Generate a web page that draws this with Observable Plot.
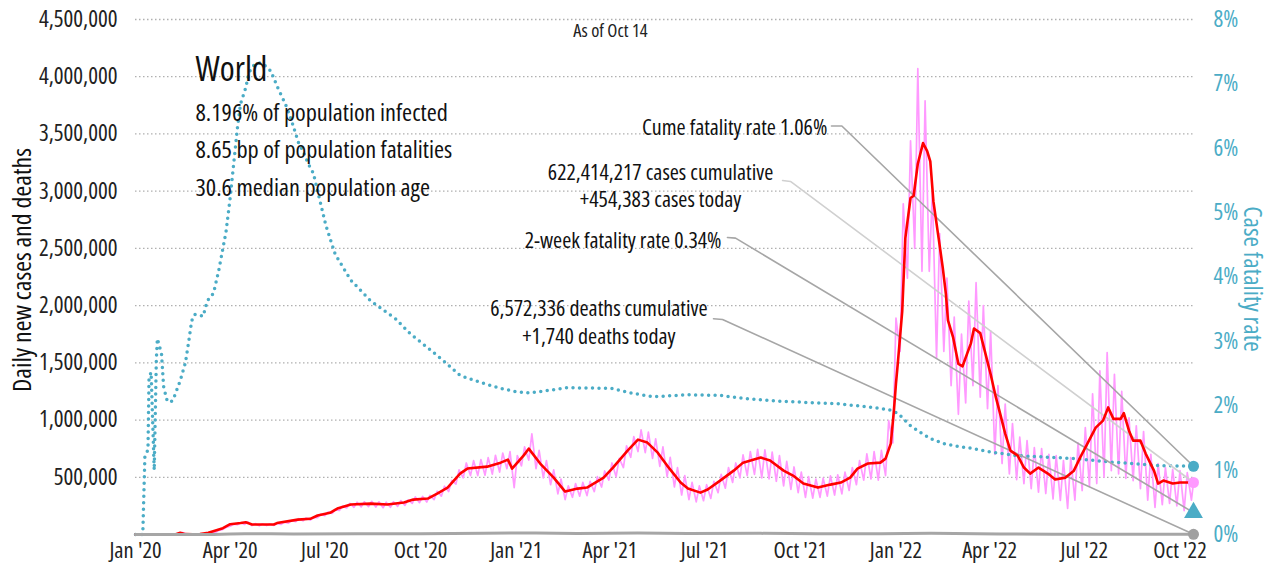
<!DOCTYPE html>
<html>
<head>
<meta charset="utf-8">
<script src="https://cdn.jsdelivr.net/npm/d3@7"></script>
<script src="https://cdn.jsdelivr.net/npm/@observablehq/plot@0.6"></script>
<style>
  html, body { margin: 0; padding: 0; background: #fff; }
  #chart svg { display: block; }
  #chart svg, #chart svg text { font-family: 'Open Sans', 'Roboto Condensed', sans-serif; font-stretch: 75%; }
</style>
</head>
<body>
<div id="chart"></div>
<script>
// ---------------- DATA ----------------
// Day offsets are days since 1 Jan 2020; values in thousands unless noted.
const startDate = "2020-01-01";
const lastDay = 1017; // Oct 14, 2022

// 7-day average of new cases: [day, thousands]
const casesAvg7 = [
  [0,0],[38,1],[43,15],[48,3],[55,2],[62,3],[70,15],[77,35],[84,55],[91,90],[101,100],[106,107],[112,88],
  [133,87],[136,100],[156,130],[168,137],[175,166],[187,190],[194,227],[207,262],[226,270],[242,262],
  [258,279],[267,305],[281,314],[290,358],[300,410],[312,532],[319,576],[338,593],[351,628],[358,654],
  [362,576],[373,689],[378,750],[389,620],[402,497],[413,375],[425,401],[434,410],[450,497],[459,585],
  [473,733],[483,829],[492,803],[502,715],[511,602],[524,454],[531,401],[543,366],[550,393],[562,471],
  [575,558],[584,628],[601,672],[610,646],[623,558],[632,515],[642,445],[656,410],[668,436],[678,454],
  [687,497],[694,576],[704,620],[716,628],[721,663],[726,794],[729,1080],[731,1320],[733,1520],[737,1950],
  [740,2590],[745,2940],[748,2960],[752,3240],[757,3420],[761,3350],[764,3260],[767,2910],[772,2590],
  [776,2330],[779,2100],[781,1870],[786,1720],[791,1490],[795,1470],[803,1670],[806,1800],[812,1760],
  [817,1580],[822,1400],[827,1200],[831,1060],[836,881],[841,733],[848,689],[854,585],[860,532],[868,585],
  [877,532],[884,480],[894,497],[902,558],[908,672],[915,794],[923,934],[930,995],[935,1110],[940,1010],
  [947,1010],[950,1060],[955,907],[959,820],[966,820],[971,707],[979,558],[983,445],[988,471],[997,445],
  [1004,454],[1017,454]
];

// Daily new cases, weekly troughs and peaks (thousands), week i starts on day 7*i
const dailyLowK = [
  0,0,0,0,1,2,3,3,1,2,8,20,45,72,85,88,78,76,78,80,88,100,112,120,126,148,165,185,210,232,
  238,242,244,240,234,238,245,254,272,278,284,305,335,375,440,495,515,515,518,528,545,575,410,600,650,
  575,495,435,355,305,325,335,340,375,415,475,505,585,675,725,715,665,595,505,415,345,305,285,295,315,
  365,405,455,495,515,525,495,485,465,425,395,365,325,318,325,335,345,355,385,435,475,485,475,515,800,
  1600,2240,2500,2300,2300,1540,1600,1300,1050,1150,1300,1200,1100,700,620,530,480,445,400,370,358,310,
  297,227,300,384,420,445,500,558,530,490,471,400,300,236,260,271,250,209,300
];
const dailyHighK = [
  0,0,0,1,3,4,18,6,3,6,18,35,62,90,102,110,95,92,92,96,108,122,138,145,150,178,196,215,248,272,
  282,286,290,286,282,286,296,302,328,332,342,378,422,472,565,625,645,655,672,692,712,725,690,765,880,
  735,645,565,485,425,445,455,465,505,555,625,665,775,855,915,895,835,765,675,585,515,455,425,435,465,
  525,585,625,695,725,745,740,720,690,640,590,545,505,485,492,512,522,545,585,645,705,725,735,995,1890,
  2890,3440,4070,3790,3000,2630,2240,1900,1750,2040,2200,2000,1780,1300,1140,970,850,820,760,750,700,689,
  646,672,800,934,1230,1430,1590,1400,1250,1020,950,900,700,620,585,570,558,540,532
];
const casesToday = 454383;

// Daily deaths: [day, thousands]
const deathsDaily = [
  [0,0],[60,0.2],[75,1],[91,5],[105,7.5],[130,5.5],[152,4.5],[213,6],[274,5.5],[335,10.5],[385,14],
  [425,9],[483,13.5],[531,9],[601,10],[656,7],[716,7],[765,11],[831,5],[882,2],[943,2.3],[1017,1.74]
];

// Cumulative case fatality rate: [day, percent]
const caseFatalityRate = [
  [0,0],[7,0],[9,1.2],[12,1.32],[13,2.44],[15,2.52],[18,1.0],[20,2.7],[21,3.04],[25,2.81],[27,2.3],
  [30,2.1],[34,2.05],[37,2.13],[43,2.39],[48,2.67],[51,2.98],[54,3.32],[57,3.42],[65,3.39],[69,3.63],
  [75,3.75],[80,4.1],[87,4.7],[91,5.23],[94,5.7],[98,6.32],[101,6.69],[106,6.94],[109,7.17],[113,7.28],
  [120,7.33],[125,7.28],[130,7.2],[137,6.93],[144,6.69],[149,6.48],[157,6.07],[161,5.96],[166,5.76],
  [171,5.61],[175,5.34],[183,4.8],[192,4.35],[207,3.95],[226,3.63],[250,3.35],[264,3.12],[284,2.86],
  [298,2.67],[312,2.47],[332,2.36],[351,2.27],[365,2.22],[377,2.2],[389,2.22],[415,2.28],[457,2.27],
  [479,2.19],[498,2.14],[531,2.17],[562,2.16],[588,2.11],[620,2.07],[675,2.03],[700,1.99],[724,1.94],
  [733,1.88],[738,1.8],[745,1.69],[755,1.58],[764,1.49],[777,1.41],[790,1.37],[803,1.34],[819,1.29],
  [844,1.23],[877,1.2],[902,1.18],[934,1.13],[959,1.1],[985,1.07],[1017,1.06]
];
const cumeFatalityPct = 1.06;
const twoWeekFatalityPct = 0.34;
const deathsToday = 1740;

// Tick values
const caseTicks = [500000,1000000,1500000,2000000,2500000,3000000,3500000,4000000,4500000];
const pctTicks = [0,1,2,3,4,5,6,7,8];
const monthNames = ["Jan","Apr","Jul","Oct"];
const quarterTicks = ["2020-01-01","2020-04-01","2020-07-01","2020-10-01","2021-01-01","2021-04-01",
  "2021-07-01","2021-10-01","2022-01-01","2022-04-01","2022-07-01","2022-10-01"];

// Text
const titleLines = ["World","8.196% of population infected","8.65 bp of population fatalities","30.6 median population age"];
const asOfText = "As of Oct 14";
const yLabelLeft = "Daily new cases and deaths";
const yLabelRight = "Case fatality rate";
const annotationTexts = [
  "Cume fatality rate 1.06%",
  "622,414,217 cases cumulative\n+454,383 cases today",
  "2-week fatality rate 0.34%",
  "6,572,336 deaths cumulative\n+1,740 deaths today"
];

// ---------------- BUILD ----------------
const T0 = Date.parse(startDate + "T00:00:00Z");
const D = n => new Date(T0 + n * 864e5);
const PCT = 4500000 / 8; // right axis: 8% maps to 4,500,000 on the left axis
const TEAL = "#4bacc6", PINK = "#ff99ff", RED = "#ff0000", GRAY = "#a6a6a6";

const red = casesAvg7.map(([d, v]) => ({x: D(d), y: v * 1000}));
const pink = [];
dailyLowK.forEach((lo, i) => {
  if (7 * i < lastDay) pink.push({x: D(7 * i), y: lo * 1000});
  if (7 * i + 3 < lastDay) pink.push({x: D(7 * i + 3), y: dailyHighK[i] * 1000});
});
pink.push({x: D(lastDay), y: casesToday});
const deaths = deathsDaily.map(([d, v]) => ({x: D(d), y: v * 1000}));
const cfr = caseFatalityRate.map(([d, p]) => ({x: D(d), y: p * PCT}));

// annotation anchors in data space (day, value)
const annosEnd = [
  {d: 665, v: 3548000, text: annotationTexts[0]},
  {d: 563.3, v: 2569000, text: annotationTexts[2]}
];
const annosMid = [
  {d: 504.7, v: 3058000, text: annotationTexts[1]},
  {d: 445.4, v: 1863000, text: annotationTexts[3]}
];
const leaders = [
  {c: GRAY, pts: [[669, 3569000], [679, 3569000], [lastDay, cumeFatalityPct * PCT]]},
  {c: "#d0d0d0", pts: [[622, 3093000], [629.6, 3085000], [lastDay, casesToday]]},
  {c: GRAY, pts: [[569, 2595000], [576.8, 2590000], [lastDay, twoWeekFatalityPct * PCT]]},
  {c: GRAY, pts: [[555.6, 1885000], [564.3, 1879000], [lastDay, deathsToday]]}
];
const leaderMarks = leaders.map(L => Plot.line(L.pts.map(([d, v]) => ({x: D(d), y: v})),
  {x: "x", y: "y", stroke: L.c, strokeWidth: 1.6}));

const titleY = [4054000, 3679000, 3355000, 3023000];
const titleData = titleLines.map((t, i) => ({x: D(57.7), y: titleY[i], t}));

const chart = Plot.plot({
  width: 1270,
  height: 573,
  marginTop: 19,
  marginBottom: 39,
  marginLeft: 135,
  marginRight: 77,
  style: {fontFamily: "'Open Sans', 'Roboto Condensed', sans-serif", fontSize: "22px", color: "#222", background: "#fff", overflow: "visible"},
  x: {type: "utc", domain: [D(0), D(lastDay)]},
  y: {domain: [0, 4500000]},
  marks: [
    Plot.gridY(caseTicks, {stroke: "#b0b0b0", strokeOpacity: 1, strokeWidth: 1.3, strokeDasharray: "1.5,2.5"}),
    Plot.line(pink, {x: "x", y: "y", stroke: PINK, strokeWidth: 1.7}),
    Plot.line(cfr, {x: "x", y: "y", stroke: TEAL, strokeWidth: 3.5, strokeDasharray: "0,6.5", strokeLinecap: "round"}),
    ...leaderMarks,
    Plot.line(red, {x: "x", y: "y", stroke: RED, strokeWidth: 2.6}),
    Plot.line(deaths, {x: "x", y: "y", stroke: GRAY, strokeWidth: 3}),
    Plot.dot([{x: D(lastDay), y: deathsToday}], {x: "x", y: "y", r: 5.5, fill: "#a0a0a0"}),
    Plot.dot([{x: D(lastDay), y: twoWeekFatalityPct * PCT}], {x: "x", y: "y", r: 7, symbol: "triangle", fill: TEAL}),
    Plot.dot([{x: D(lastDay), y: casesToday}], {x: "x", y: "y", r: 5.5, fill: PINK}),
    Plot.dot([{x: D(lastDay), y: cumeFatalityPct * PCT}], {x: "x", y: "y", r: 5.5, fill: TEAL}),
    Plot.text(annosEnd, {x: d => D(d.d), y: "v", text: "text", textAnchor: "end", lineAnchor: "middle",
      fontSize: 22, fill: "#111"}),
    Plot.text(annosMid, {x: d => D(d.d), y: "v", text: "text", textAnchor: "middle", lineAnchor: "middle",
      lineHeight: 1.27, fontSize: 22, fill: "#111"}),
    Plot.text(titleData.slice(0, 1), {x: "x", y: "y", text: "t", textAnchor: "start", lineAnchor: "middle", fontSize: 34, fill: "#111"}),
    Plot.text(titleData.slice(1), {x: "x", y: "y", text: "t", textAnchor: "start", lineAnchor: "middle", fontSize: 24.3, fill: "#111"}),
    Plot.text([asOfText], {x: D(456.6), y: 4395000, text: d => d, textAnchor: "middle", lineAnchor: "middle", fontSize: 18.5, fill: "#222"}),
    Plot.text([yLabelLeft], {text: d => d, frameAnchor: "left", dx: -113, dy: -7, rotate: -90,
      textAnchor: "middle", lineAnchor: "middle", fontSize: 26, fill: "#111"}),
    Plot.text([yLabelRight], {text: d => d, frameAnchor: "right", dx: 59, dy: 2, rotate: 90,
      textAnchor: "middle", lineAnchor: "middle", fontSize: 25.5, fill: TEAL}),
    Plot.axisY(caseTicks, {anchor: "left", tickSize: 0, tickPadding: 18, tickFormat: d3.format(","), fontSize: 23, label: null, color: "#222"}),
    Plot.axisY(pctTicks.map(p => p * PCT), {anchor: "right", tickSize: 0, tickPadding: 20,
      tickFormat: v => Math.round(v / PCT) + "%", fontSize: 23, label: null, color: TEAL}),
    Plot.axisX(quarterTicks.map(s => new Date(s + "T00:00:00Z")), {tickSize: 0, tickPadding: 8, fontSize: 22.5, label: null,
      tickFormat: d => `${monthNames[d.getUTCMonth() / 3]} '${String(d.getUTCFullYear()).slice(2)}`, color: "#222"})
  ]
});
document.getElementById("chart").appendChild(chart);
</script>
</body>
</html>
